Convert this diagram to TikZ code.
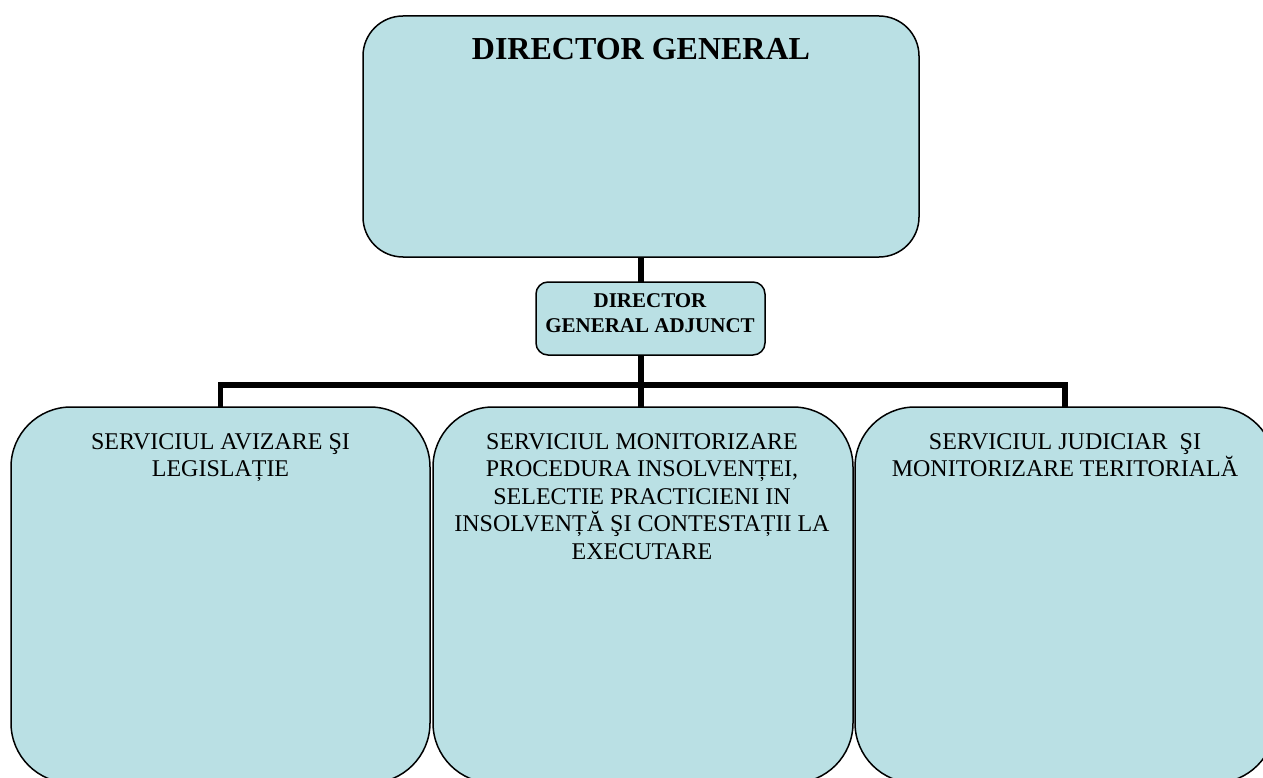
\documentclass[tikz,border=0pt]{standalone}
\usepackage{fontspec}
\setmainfont{Liberation Serif}
\usetikzlibrary{backgrounds}
\definecolor{boxfill}{RGB}{186,224,228}
\begin{document}
\begin{tikzpicture}[x=1pt,y=-1pt,
  box/.style={draw=black, line width=1.5pt, fill=boxfill, rectangle, inner sep=0pt, outer sep=0pt},
  conn/.style={draw=black, line width=5.5pt},
  lbl/.style={align=center, inner sep=0pt, anchor=north, font=\fontsize{24}{27.5}\selectfont},
]
\clip (0,0) rectangle (1263,778);

% boxes
\node[box, rounded corners=40pt, minimum width=556pt, minimum height=241pt] (dg) at (641,136.5) {};
\node[box, rounded corners=12pt, minimum width=229pt, minimum height=73pt] (adj) at (650.5,318.5) {};
\node[box, rounded corners=60pt, minimum width=419pt, minimum height=376pt] (s1) at (220.5,595) {};
\node[box, rounded corners=60pt, minimum width=420pt, minimum height=376pt] (s2) at (643,595) {};
\node[box, rounded corners=60pt, minimum width=420pt, minimum height=376pt] (s3) at (1065,595) {};

% labels
\node[anchor=base, inner sep=0pt, font=\fontsize{32}{38}\selectfont\bfseries] (dgt) at (641,60) {DIRECTOR GENERAL};
\node[lbl, font=\fontsize{21}{25}\selectfont\bfseries] (adjt) at (650,293) {DIRECTOR\\GENERAL ADJUNCT};
\node[lbl] (s1t) at (220.5,433) {SERVICIUL AVIZARE ŞI\\LEGISLAȚIE};
\node[lbl] (s2t) at (642,433) {SERVICIUL MONITORIZARE\\PROCEDURA INSOLVENȚEI,\\SELECTIE PRACTICIENI IN\\INSOLVENȚĂ ŞI CONTESTAȚII LA\\EXECUTARE};
\node[lbl] (s3t) at (1065,433) {SERVICIUL JUDICIAR~ ŞI\\MONITORIZARE TERITORIALĂ};

% connectors
\coordinate (bus) at (641,385);
\begin{scope}[on background layer]
  \draw[conn] (dg.south) -- (dg.south |- adj.north);
  \draw[conn] (adj.south -| dg.south) -- (s2.north -| dg.south);
  \draw[conn] (s1.north) |- (bus) -| (s3.north);
\end{scope}
\end{tikzpicture}
\end{document}
